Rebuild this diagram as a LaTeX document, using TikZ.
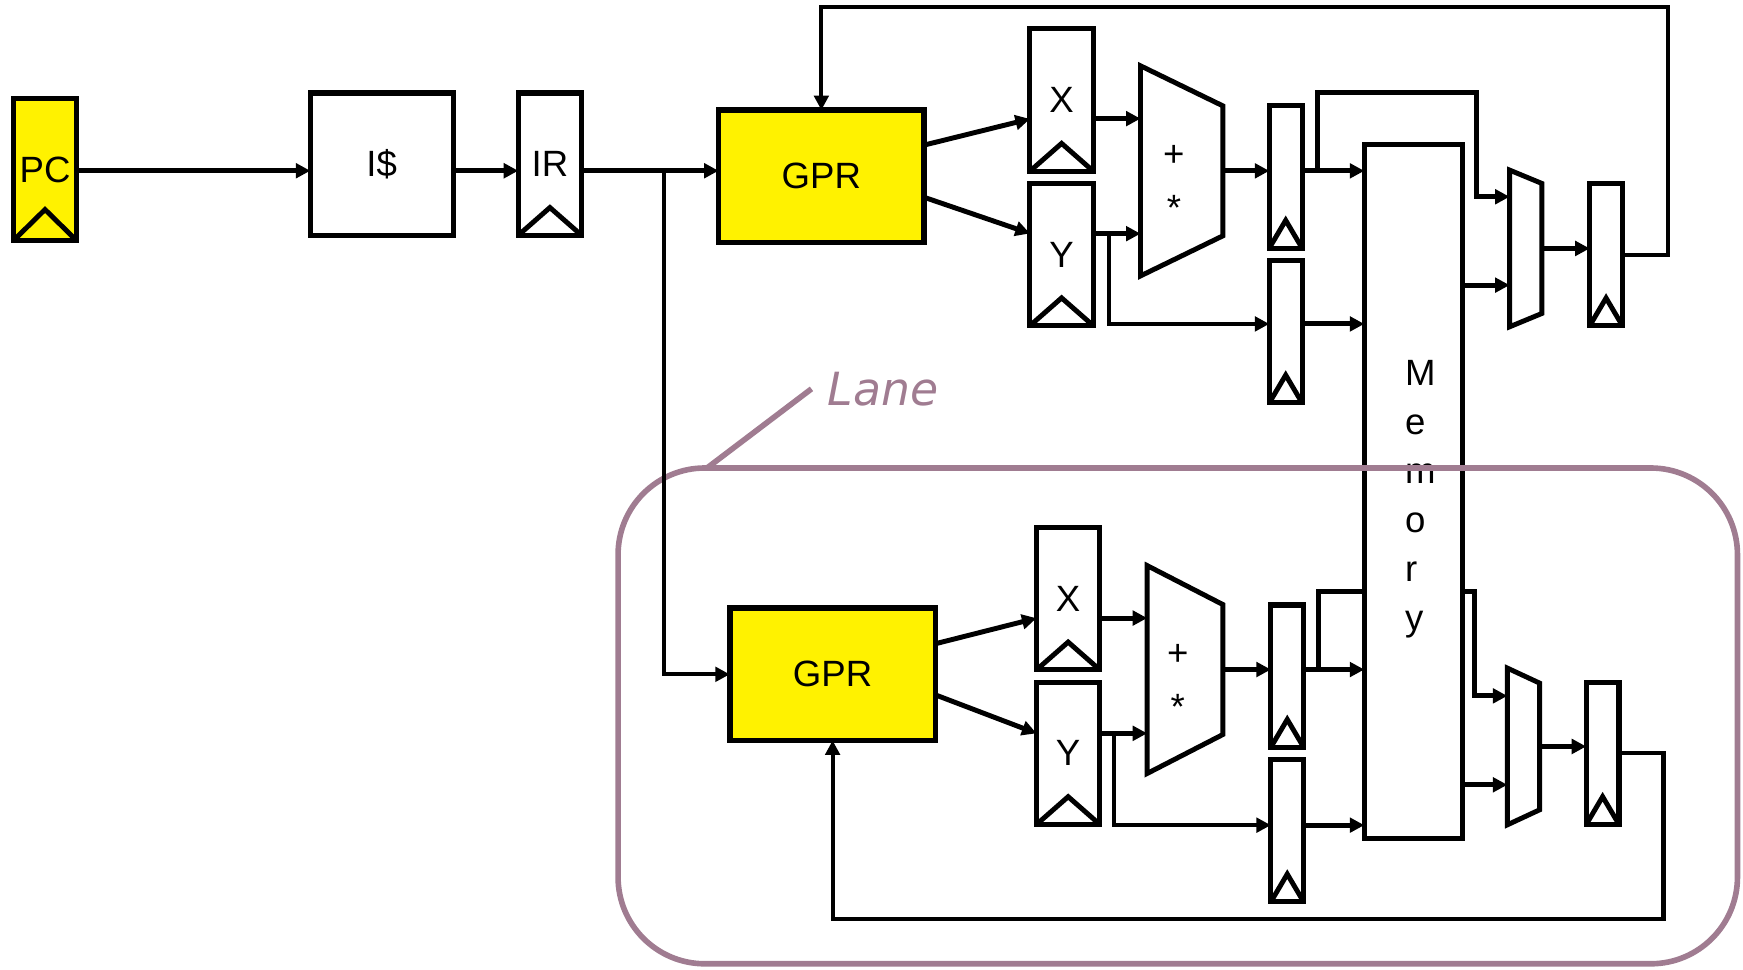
\documentclass[tikz,border=0pt]{standalone}
\usepackage{fontspec}
\setmainfont{Liberation Sans}
\newfontfamily\lanefont{DejaVu Sans}
\usetikzlibrary{arrows.meta,calc}
\newlength{\dpx}
\setlength{\dpx}{0.011116cm}
\definecolor{lanecol}{RGB}{160,124,145}
\tikzset{
  blk/.style={draw, line width=1.45pt, inner sep=0pt, outer sep=0pt, font=\fontsize{10.4}{12}\selectfont},
  tallreg/.style={blk, minimum width=57\dpx, minimum height=128\dpx},
  thinreg/.style={blk, minimum width=29.5\dpx, minimum height=128\dpx},
  regfile/.style={blk, line width=1.6pt, fill=yellow, minimum width=185\dpx, minimum height=119\dpx},
  holder/.style={inner sep=0pt, outer sep=0pt},
  lbl/.style={inner sep=0pt, font=\fontsize{10.4}{12}\selectfont},
  wire/.style={line width=1.4pt, -{Triangle[length=1.45mm,width=1.45mm]}},
  thinwire/.style={wire, line width=1.15pt},
  clk/.style={line width=1.4pt},
  trap/.style={line width=1.4pt, line join=miter},
  laneline/.style={draw=lanecol, line width=1.6pt}
}
\begin{document}
\begin{tikzpicture}[x=1\dpx,y=-1\dpx]
\useasboundingbox (0,0) rectangle (1568,872.6);

%Fetch
\node[tallreg, fill=yellow] (pc) at (40.5,152.5) {PC};
\node[blk, minimum width=128.5\dpx, minimum height=128\dpx] (icache) at (343.4,147.7) {I\$};
\node[tallreg] (ir) at (494.7,147.7) {IR};
\coordinate (row) at (0,153.6);
\coordinate (split) at (597,153.6);

%Upper Lane
\node[regfile] (gprA) at (738.9,158.5) {GPR};
\node[tallreg] (xA) at (955,90) {X};
\node[tallreg] (yA) at (955,229) {Y};
\node[holder, minimum width=74\dpx, minimum height=189\dpx] (aluA) at (1063,153.7) {};
\draw[trap] (aluA.north west) -- ($(aluA.north east)+(0,36)$) -- ($(aluA.south east)+(0,-36)$) -- (aluA.south west) -- cycle;
\node[lbl, anchor=base] (plusA) at ($(aluA.center)+(-7,-3.7)$) {+};
\node[lbl, anchor=base] (timesA) at ($(aluA.center)+(-7,45)$) {*};
\node[thinreg] (rA) at (1156.6,159.2) {};
\node[thinreg] (rB) at (1156.6,298.4) {};
\node[holder, minimum width=29\dpx, minimum height=141\dpx] (muxA) at (1372.5,223.5) {};
\draw[trap] (muxA.north west) -- ($(muxA.north east)+(0,12)$) -- ($(muxA.south east)+(0,-12)$) -- (muxA.south west) -- cycle;
\node[thinreg] (rC) at (1444.8,229.1) {};

%Lower Lane
\node[regfile] (gprB) at (749,606.6) {GPR};
\node[tallreg] (xB) at (960.9,538.6) {X};
\node[tallreg] (yB) at (960.9,677.7) {Y};
\node[holder, minimum width=68\dpx, minimum height=187\dpx] (aluB) at (1066,602.3) {};
\draw[trap] (aluB.north west) -- ($(aluB.north east)+(0,35)$) -- ($(aluB.south east)+(0,-35)$) -- (aluB.south west) -- cycle;
\node[lbl, anchor=base] (plusB) at ($(aluB.center)+(-6.5,-3.9)$) {+};
\node[lbl, anchor=base] (timesB) at ($(aluB.center)+(-6.5,44.7)$) {*};
\node[thinreg] (rD) at (1158,608.2) {};
\node[thinreg] (rE) at (1158,747.3) {};
\node[holder, minimum width=29\dpx, minimum height=141\dpx] (muxB) at (1370.5,671.5) {};
\draw[trap] (muxB.north west) -- ($(muxB.north east)+(0,13.5)$) -- ($(muxB.south east)+(0,-13.5)$) -- (muxB.south west) -- cycle;
\node[thinreg] (rF) at (1441.7,677.7) {};

%Clock Marks
\foreach \r/\h in {pc/28,ir/25,xA/25,yA/25,xB/25,yB/25,rA/25,rB/25,rC/25,rD/25,rE/25,rF/25}
  \draw[clk] (\r.south west) -- ($(\r.south)+(0,-\h)$) -- (\r.south east);

%Wire behind Memory
\coordinate (brB) at ($(rD.east |- aluB.east)+(13.5,0)$);
\draw[wire] (brB) -- ++(0,-70.3) -| ($(muxB.west)+(-29.5,-45.5)$) -- ($(muxB.west)+(0,-45.5)$);

%Memory
\node[blk, fill=white, minimum width=88\dpx, minimum height=624\dpx] (mem) at (1271.3,442) {};
\foreach \c [count=\i from 0] in {M,e,m,o,r,y}
  \node[lbl, anchor=base west] (mem\i) at ($(mem.north west)+(36,216.4+44.1*\i)$) {\c};

%Lane
\node[laneline, rounded corners=78\dpx, minimum width=1007\dpx, minimum height=446\dpx, inner sep=0pt, outer sep=0pt] (lane) at (1059.5,644) {};
\node[text=lanecol, font=\lanefont\itshape\fontsize{13}{15}\selectfont, inner sep=0pt, anchor=base west] (lanelbl) at (744,364.5) {Lane};
\draw[laneline] ([xshift=-14\dpx]lanelbl.west) -- ($(lane.north west)+(80,0)$);

%Fetch Wires
\draw[wire] (pc.east |- row) -- (icache.west |- row);
\draw[wire] (icache.east |- row) -- (ir.west |- row);
\draw[wire] (ir.east |- row) -- (gprA.west |- row);
\draw[thinwire] (split) -- (split |- gprB.west) -- (gprB.west);

%Upper Lane Wires
\coordinate (aluAin1) at ($(aluA.west)+(0,-47)$);
\coordinate (aluAin2) at ($(aluA.west)+(0,56.5)$);
\coordinate (brA) at ($(rA.east |- aluA.east)+(14,0)$);
\draw[wire] ($(gprA.east)+(0,-28)$) -- ($(xA.west)+(0,17)$);
\draw[wire] ($(gprA.east)+(0,19)$) -- ($(yA.west)+(0,-19)$);
\draw[wire] (xA.east |- aluAin1) -- (aluAin1);
\draw[wire] (yA.east |- aluAin2) -- (aluAin2);
\draw[thinwire] ($(yA.east |- aluAin2)+(14.5,0)$) |- ($(rB.west)+(0,-7)$);
\draw[wire] (aluA.east) -- (aluA.east -| rA.west);
\draw[wire] (rA.east |- aluA.east) -- (mem.west |- aluA.east);
\draw[wire] (brA) -- ++(0,-70.6) -| ($(muxA.west)+(-30,-46.5)$) -- ($(muxA.west)+(0,-46.5)$);
\draw[wire] ($(rB.east)+(0,-7)$) -- ($(mem.west |- rB.east)+(0,-7)$);
\draw[wire] ($(mem.east |- muxA.west)+(0,33)$) -- ($(muxA.west)+(0,33)$);
\draw[wire] (muxA.east) -- (muxA.east -| rC.west);
\draw[thinwire] (rC.east) -- ++(41,0) -- ++(0,-222.5) -| (gprA.north);

%Lower Lane Wires
\coordinate (aluBin1) at ($(aluB.west)+(0,-46.3)$);
\coordinate (aluBin2) at ($(aluB.west)+(0,57.4)$);
\draw[wire] ($(gprB.east)+(0,-27.5)$) -- ($(xB.west)+(0,17.5)$);
\draw[wire] ($(gprB.east)+(0,18.5)$) -- ($(yB.west)+(0,-18)$);
\draw[wire] (xB.east |- aluBin1) -- (aluBin1);
\draw[wire] (yB.east |- aluBin2) -- (aluBin2);
\draw[thinwire] ($(yB.east |- aluBin2)+(13,0)$) |- ($(rE.west)+(0,-5)$);
\draw[wire] (aluB.east) -- (aluB.east -| rD.west);
\draw[wire] (rD.east |- aluB.east) -- (mem.west |- aluB.east);
\draw[wire] ($(rE.east)+(0,-5)$) -- ($(mem.west |- rE.east)+(0,-5)$);
\draw[wire] ($(mem.east |- muxB.west)+(0,34.5)$) -- ($(muxB.west)+(0,34.5)$);
\draw[wire] (muxB.east) -- (muxB.east -| rF.west);
\draw[thinwire] (rF.east) -- ++(40,0) -- ++(0,149.3) -| (gprB.south);
\end{tikzpicture}
\end{document}
